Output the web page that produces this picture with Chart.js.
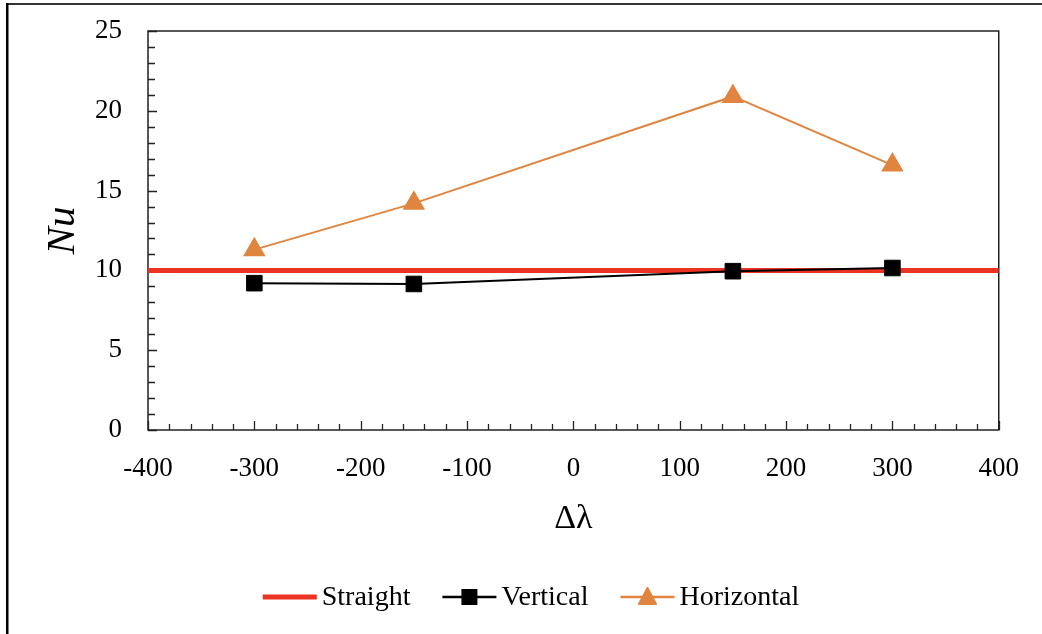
<!DOCTYPE html>
<html>
<head>
<meta charset="utf-8">
<script src="https://cdn.jsdelivr.net/npm/chart.js@4.4.0/dist/chart.umd.min.js"></script>
<style>
  html, body { margin: 0; padding: 0; background: #fff; }
  #wrap { width: 1042px; height: 634px; position: relative; }
</style>
</head>
<body>
<div id="wrap"><canvas id="nuChart"></canvas></div>
<script>
// data
var deltaLambda = [-300, -150, 150, 300];
var verticalNu = [9.2, 9.15, 9.95, 10.15];
var horizontalNu = [11.3, 14.2, 20.9, 16.6];
var straightX = [-400, 400];
var straightNu = [10, 10];
var xTickValues = [-400, -300, -200, -100, 0, 100, 200, 300, 400];
var yTickValues = [0, 5, 10, 15, 20, 25];
var seriesNames = ['Straight', 'Vertical', 'Horizontal'];

var RED = '#ea3323';
var ORANGE = '#e08540';
var SERIF = '"Liberation Serif", "Times New Roman", serif';

function toPoints(xs, ys) {
	return xs.map(function(x, i) { return {x: x, y: ys[i]}; });
}

function drawMarker(ctx, style, x, y, color) {
	ctx.save();
	ctx.fillStyle = color;
	ctx.strokeStyle = color;
	ctx.lineJoin = 'round';
	ctx.lineWidth = 2;
	if (style === 'rect') {
		ctx.fillRect(x - 8, y - 8, 16, 16);
	} else if (style === 'triangle') {
		ctx.beginPath();
		ctx.moveTo(x, y - 9);
		ctx.lineTo(x + 8.5, y + 7);
		ctx.lineTo(x - 8.5, y + 7);
		ctx.closePath();
		ctx.fill();
		ctx.stroke();
	}
	ctx.restore();
}

// plot box, inside ticks, outer frame and legend
var decorations = {
	id: 'decorations',
	beforeDatasetsDraw: function(chart) {
		var ctx = chart.ctx;
		var a = chart.chartArea;
		var xs = chart.scales.x, ys = chart.scales.y;
		ctx.save();
		ctx.strokeStyle = '#222';
		ctx.lineWidth = 1.5;
		ctx.strokeRect(a.left, a.top, a.right - a.left, a.bottom - a.top);
		ctx.lineWidth = 1.3;
		ctx.beginPath();
		for (var v = -400; v <= 400; v += 20) {
			var px = Math.round(xs.getPixelForValue(v)) + 0.5;
			var len = (v % 100 === 0) ? 9 : 6;
			ctx.moveTo(px, a.bottom);
			ctx.lineTo(px, a.bottom - len);
		}
		for (var w = 0; w <= 25; w += 1) {
			var py = Math.round(ys.getPixelForValue(w)) + 0.5;
			var len2 = (w % 5 === 0) ? 9 : 7;
			ctx.moveTo(a.left, py);
			ctx.lineTo(a.left + len2, py);
		}
		ctx.stroke();
		ctx.restore();
	},
	afterDraw: function(chart) {
		var ctx = chart.ctx;
		ctx.save();
		// outer frame (top and left edges only are visible)
		ctx.fillStyle = '#333';
		ctx.fillRect(6, 3, 1042, 2);
		ctx.fillStyle = '#000';
		ctx.fillRect(6, 3, 2.5, 634);

		// legend
		var legendY = 597;
		var lineLen = 54, textGap = 5, itemGap = 32;
		ctx.font = '28px ' + SERIF;
		ctx.textBaseline = 'middle';
		ctx.fillStyle = '#000';
		var widths = seriesNames.map(function(n) { return ctx.measureText(n).width; });
		var total = 0;
		widths.forEach(function(w, i) { total += lineLen + textGap + w + (i < widths.length - 1 ? itemGap : 0); });
		var x = 531 - total / 2;
		var styles = [
			{color: RED, width: 5, marker: null},
			{color: '#000', width: 2.5, marker: 'rect'},
			{color: ORANGE, width: 2.5, marker: 'triangle'}
		];
		for (var i = 0; i < seriesNames.length; i++) {
			var s = styles[i];
			ctx.strokeStyle = s.color;
			ctx.lineWidth = s.width;
			ctx.beginPath();
			ctx.moveTo(x, legendY);
			ctx.lineTo(x + lineLen, legendY);
			ctx.stroke();
			if (s.marker) drawMarker(ctx, s.marker, x + lineLen / 2, legendY, s.color);
			ctx.fillStyle = '#000';
			ctx.textAlign = 'left';
			ctx.fillText(seriesNames[i], x + lineLen + textGap, legendY + 1);
			x += lineLen + textGap + widths[i] + itemGap;
		}
		ctx.restore();
	}
};

var ctx = document.getElementById('nuChart');
var nuChart = new Chart(ctx, {
	type: 'line',
	data: {
		datasets: [
			{
				label: seriesNames[0],
				data: toPoints(straightX, straightNu),
				borderColor: RED,
				borderWidth: 5,
				pointRadius: 0,
				order: 3
			},
			{
				label: seriesNames[1],
				data: toPoints(deltaLambda, verticalNu),
				borderColor: '#000',
				backgroundColor: '#000',
				borderWidth: 2,
				pointStyle: 'rect',
				pointRadius: 11,
				pointBorderWidth: 1,
				order: 1
			},
			{
				label: seriesNames[2],
				data: toPoints(deltaLambda, horizontalNu),
				borderColor: ORANGE,
				backgroundColor: ORANGE,
				borderWidth: 2,
				pointStyle: 'triangle',
				pointRadius: 11,
				pointBorderWidth: 2,
				order: 2
			}
		]
	},
	options: {
		responsive: true,
		maintainAspectRatio: false,
		animation: false,
		layout: { autoPadding: false, padding: { top: 31, right: 43, left: 0, bottom: 0 } },
		plugins: {
			legend: { display: false },
			tooltip: { enabled: false }
		},
		scales: {
			x: {
				type: 'linear',
				min: -400,
				max: 400,
				afterBuildTicks: function(scale) {
					scale.ticks = xTickValues.map(function(v) { return {value: v}; });
				},
				afterFit: function(scale) { scale.height = 204; },
				grid: { display: false, drawTicks: false },
				border: { display: false },
				ticks: {
					color: '#000',
					padding: 23,
					maxRotation: 0,
					autoSkip: false,
					font: { family: SERIF, size: 27 }
				},
				title: {
					display: true,
					text: 'Δλ',
					color: '#000',
					font: { family: SERIF, size: 34 },
					padding: { top: 0, bottom: 95 }
				}
			},
			y: {
				min: 0,
				max: 25,
				afterBuildTicks: function(scale) {
					scale.ticks = yTickValues.map(function(v) { return {value: v}; });
				},
				afterFit: function(scale) {
					scale.width = 148;
					scale.paddingTop = 0;
					scale.paddingBottom = 0;
				},
				grid: { display: false, drawTicks: false },
				border: { display: false },
				ticks: {
					color: '#000',
					padding: 26,
					font: { family: SERIF, size: 27 }
				},
				title: {
					display: true,
					text: 'Nu',
					color: '#000',
					font: { family: SERIF, size: 41, style: 'italic' },
					padding: { top: 39, bottom: 0 }
				}
			}
		}
	},
	plugins: [decorations]
});
</script>
</body>
</html>
